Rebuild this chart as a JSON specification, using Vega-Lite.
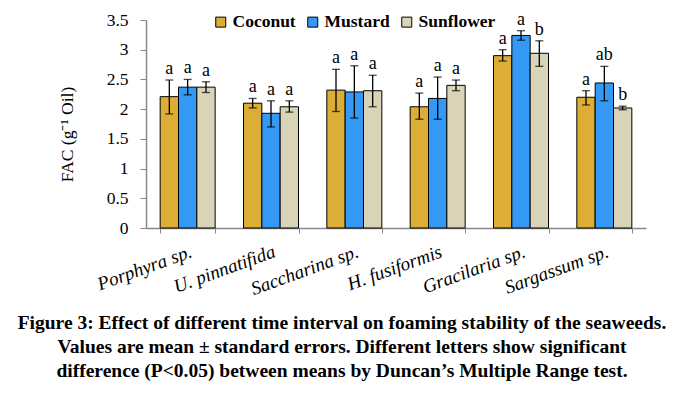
{
  "$schema": "https://vega.github.io/schema/vega-lite/v6.json",
  "width": 500,
  "height": 208,
  "autosize": {"type": "none"},
  "padding": {"left": 146, "top": 20, "right": 39, "bottom": 165},
  "background": "white",
  "config": {
    "view": {"stroke": null},
    "font": "Liberation Serif",
    "axisY": {
      "titleFont": "Liberation Serif",
      "titleFontSize": 17.5,
      "titleFontWeight": "normal",
      "titleColor": "black",
      "titlePadding": 30,
      "titleY": 114,
      "grid": false,
      "labelFont": "Liberation Serif",
      "labelFontSize": 17.5,
      "labelColor": "black",
      "labelPadding": 12,
      "labelOverlap": false,
      "tickSize": 6,
      "tickColor": "#888888",
      "domainColor": "#888888",
      "domainWidth": 1.5
    }
  },
  "title": {
    "text": ["Figure 3: Effect of different time interval on foaming stability of the seaweeds.", "Values are mean ± standard errors. Different letters show significant", "difference (P<0.05) between means by Duncan’s Multiple Range test."],
    "orient": "bottom",
    "anchor": "middle",
    "frame": "group",
    "dx": -54,
    "offset": 16,
    "font": "Liberation Serif",
    "fontSize": 19.5,
    "fontWeight": "bold",
    "lineHeight": 24,
    "color": "black"
  },
  "data": {
    "values": [
      {"species": "Porphyra sp.", "oil": "Coconut", "mean": 2.21, "lo": 1.92, "hi": 2.49, "letter": "a"},
      {"species": "Porphyra sp.", "oil": "Mustard", "mean": 2.37, "lo": 2.24, "hi": 2.50, "letter": "a"},
      {"species": "Porphyra sp.", "oil": "Sunflower", "mean": 2.37, "lo": 2.28, "hi": 2.46, "letter": "a"},
      {"species": "U. pinnatifida", "oil": "Coconut", "mean": 2.10, "lo": 2.02, "hi": 2.18, "letter": "a"},
      {"species": "U. pinnatifida", "oil": "Mustard", "mean": 1.93, "lo": 1.70, "hi": 2.14, "letter": "a"},
      {"species": "U. pinnatifida", "oil": "Sunflower", "mean": 2.04, "lo": 1.95, "hi": 2.14, "letter": "a"},
      {"species": "Saccharina sp.", "oil": "Coconut", "mean": 2.32, "lo": 1.96, "hi": 2.67, "letter": "a"},
      {"species": "Saccharina sp.", "oil": "Mustard", "mean": 2.29, "lo": 1.85, "hi": 2.73, "letter": "a"},
      {"species": "Saccharina sp.", "oil": "Sunflower", "mean": 2.31, "lo": 2.04, "hi": 2.57, "letter": "a"},
      {"species": "H. fusiformis", "oil": "Coconut", "mean": 2.04, "lo": 1.83, "hi": 2.27, "letter": "a"},
      {"species": "H. fusiformis", "oil": "Mustard", "mean": 2.18, "lo": 1.83, "hi": 2.54, "letter": "a"},
      {"species": "H. fusiformis", "oil": "Sunflower", "mean": 2.40, "lo": 2.31, "hi": 2.49, "letter": "a"},
      {"species": "Gracilaria sp.", "oil": "Coconut", "mean": 2.90, "lo": 2.81, "hi": 3.00, "letter": "a"},
      {"species": "Gracilaria sp.", "oil": "Mustard", "mean": 3.24, "lo": 3.16, "hi": 3.32, "letter": "a"},
      {"species": "Gracilaria sp.", "oil": "Sunflower", "mean": 2.94, "lo": 2.72, "hi": 3.15, "letter": "b"},
      {"species": "Sargassum sp.", "oil": "Coconut", "mean": 2.20, "lo": 2.07, "hi": 2.31, "letter": "a"},
      {"species": "Sargassum sp.", "oil": "Mustard", "mean": 2.44, "lo": 2.14, "hi": 2.72, "letter": "ab"},
      {"species": "Sargassum sp.", "oil": "Sunflower", "mean": 2.02, "lo": 1.99, "hi": 2.05, "letter": "b"}
    ]
  },
  "encoding": {
    "x": {
      "field": "species",
      "type": "nominal",
      "sort": null,
      "scale": {"paddingInner": 0.34, "paddingOuter": 0.17},
      "axis": {
        "title": null,
        "labelAngle": -20,
        "labelAlign": "right",
        "labelBaseline": "top",
        "labelFont": "Liberation Serif",
        "labelFontStyle": "italic",
        "labelFontSize": 19,
        "labelColor": "black",
        "labelPadding": 9,
        "tickBand": "extent",
        "tickSize": 5,
        "tickColor": "#888888",
        "domainColor": "#888888",
        "domainWidth": 1.5
      }
    },
    "xOffset": {"field": "oil", "type": "nominal", "sort": ["Coconut", "Mustard", "Sunflower"], "scale": {"paddingInner": 0, "paddingOuter": 0}}
  },
  "layer": [
    {
      "mark": {"type": "bar", "stroke": "black", "strokeWidth": 1},
      "encoding": {
        "y": {
          "field": "mean",
          "type": "quantitative",
          "scale": {"domain": [0, 3.5], "nice": false},
          "axis": {"title": "FAC (g⁻¹ Oil)", "values": [0, 0.5, 1, 1.5, 2, 2.5, 3, 3.5], "format": ".1~f"}
        },
        "fill": {
          "field": "oil",
          "type": "nominal",
          "sort": ["Coconut", "Mustard", "Sunflower"],
          "scale": {"domain": ["Coconut", "Mustard", "Sunflower"], "range": ["#DDAE35", "#3399F5", "#D9D3B8"]},
          "legend": {
            "title": null,
            "orient": "none",
            "direction": "horizontal",
            "legendX": 66,
            "legendY": -7,
            "symbolType": "square",
            "symbolSize": 100,
            "symbolStrokeColor": "black",
            "symbolStrokeWidth": 1,
            "labelFont": "Liberation Serif",
            "labelFontSize": 17.5,
            "labelFontWeight": "bold",
            "labelColor": "black",
            "labelOffset": 3,
            "columnPadding": 8
          }
        }
      }
    },
    {
      "mark": {"type": "rule", "color": "black", "strokeWidth": 1.3},
      "encoding": {
        "y": {"field": "lo", "type": "quantitative", "axis": {"title": "FAC (g⁻¹ Oil)", "values": [0, 0.5, 1, 1.5, 2, 2.5, 3, 3.5], "format": ".1~f"}},
        "y2": {"field": "hi"}
      }
    },
    {
      "mark": {"type": "tick", "color": "black", "size": 8, "thickness": 1.3},
      "encoding": {"y": {"field": "lo", "type": "quantitative", "axis": {"title": "FAC (g⁻¹ Oil)", "values": [0, 0.5, 1, 1.5, 2, 2.5, 3, 3.5], "format": ".1~f"}}}
    },
    {
      "mark": {"type": "tick", "color": "black", "size": 8, "thickness": 1.3},
      "encoding": {"y": {"field": "hi", "type": "quantitative", "axis": {"title": "FAC (g⁻¹ Oil)", "values": [0, 0.5, 1, 1.5, 2, 2.5, 3, 3.5], "format": ".1~f"}}}
    },
    {
      "mark": {"type": "text", "baseline": "bottom", "dy": -2, "font": "Liberation Serif", "fontSize": 18, "color": "black"},
      "encoding": {
        "y": {"field": "hi", "type": "quantitative", "axis": {"title": "FAC (g⁻¹ Oil)", "values": [0, 0.5, 1, 1.5, 2, 2.5, 3, 3.5], "format": ".1~f"}},
        "text": {"field": "letter"}
      }
    }
  ]
}
